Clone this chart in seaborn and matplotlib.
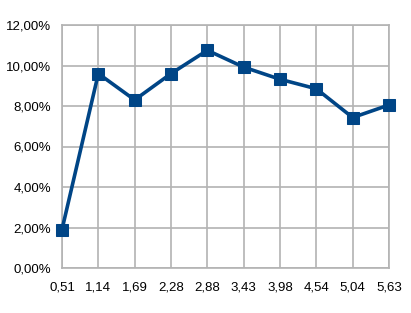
import matplotlib
matplotlib.use("Agg")
import matplotlib.pyplot as plt
import seaborn as sns
import pandas as pd
from matplotlib.ticker import FuncFormatter

categories = ["0,51", "1,14", "1,69", "2,28", "2,88", "3,43", "3,98", "4,54", "5,04", "5,63"]
values = [1.9, 9.6, 8.3, 9.6, 10.75, 9.92, 9.32, 8.85, 7.43, 8.05]
y_ticks = [0, 2, 4, 6, 8, 10, 12]

sns.set_style("white")
plt.rcParams['font.family'] = ['Liberation Sans', 'DejaVu Sans']

df = pd.DataFrame({"x": categories, "y": values})

fig = plt.figure(figsize=(4.11, 3.13), dpi=100)
ax = fig.add_axes([62/411, (313-268)/313, (389-62)/411, (268-25)/313])

sns.lineplot(data=df, x="x", y="y", ax=ax, color="#004586", linewidth=2.6,
             marker="s", markersize=8.5, markeredgecolor="#004586", sort=False,
             zorder=3, clip_on=False)

grid_c = "#b3b3b3"
ax.set_xlim(0, len(categories) - 1)
ax.set_ylim(0, 12)
ax.set_yticks(y_ticks)
ax.yaxis.set_major_formatter(FuncFormatter(lambda v, p: f"{v:.2f}%".replace(".", ",")))
ax.grid(True, color=grid_c, linewidth=1.2)
ax.set_axisbelow(True)
for s in ax.spines.values():
    s.set_color(grid_c)
    s.set_linewidth(1.2)
ax.tick_params(axis="both", which="major", length=4, width=1.2, color=grid_c,
               labelsize=9.5, labelcolor="black", direction="out")
ax.tick_params(axis="y", pad=4)
ax.tick_params(axis="x", pad=6)
ax.set_xlabel("")
ax.set_ylabel("")

fig.savefig("out.png", dpi=100)
